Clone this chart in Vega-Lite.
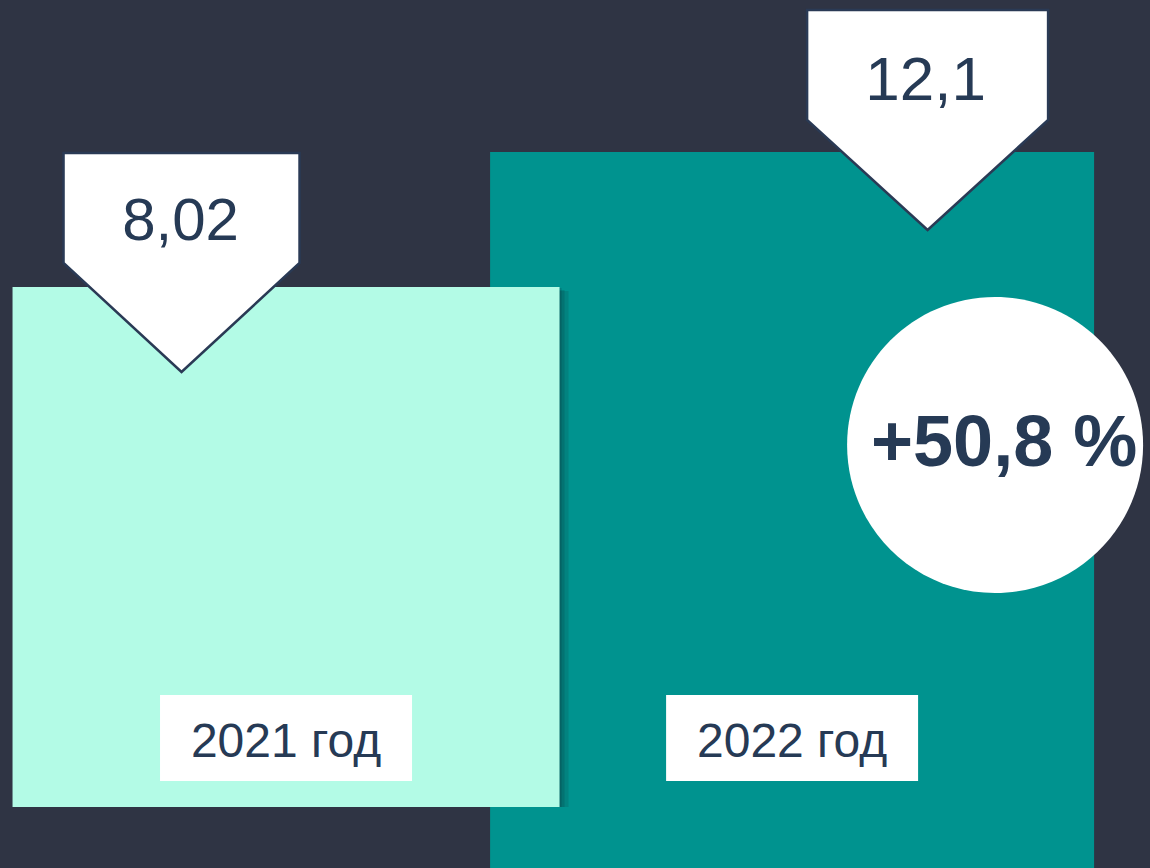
{
  "$schema": "https://vega.github.io/schema/vega-lite/v6.json",
  "width": 1150,
  "height": 868,
  "padding": 0,
  "autosize": {"type": "none"},
  "background": "#2f3444",
  "config": {
    "view": {"stroke": null},
    "font": "Liberation Sans",
    "locale": {"number": {"decimal": ",", "thousands": " ", "grouping": [3], "currency": ["", ""]}}
  },
  "data": {"values": [
    {"year": 2021, "value": 8.02, "label": "2021 год"},
    {"year": 2022, "value": 12.1, "label": "2022 год", "growth": "+50,8 %"}
  ]},
  "encoding": {
    "x": {"field": "year", "type": "quantitative", "axis": null,
      "scale": {"domain": [2020.44466, 2022.69736], "nice": false, "zero": false}},
    "y": {"field": "value", "type": "quantitative", "axis": null,
      "scale": {"domain": [-9.539, 16.694], "nice": false, "zero": false}}
  },
  "layer": [
    {
      "transform": [{"filter": "datum.year == 2022"}],
      "mark": {"type": "bar", "width": 604, "color": "#00938f"},
      "encoding": {"y2": {"datum": -9.539}}
    },
    {
      "transform": [{"filter": "datum.year == 2021"}],
      "mark": {"type": "bar", "width": 547, "color": "#10141c", "opacity": 0.12, "xOffset": 9, "yOffset": 4},
      "encoding": {"y2": {"datum": -7.6956}}
    },
    {
      "transform": [{"filter": "datum.year == 2021"}],
      "mark": {"type": "bar", "width": 547, "color": "#10141c", "opacity": 0.14, "xOffset": 5, "yOffset": 3},
      "encoding": {"y2": {"datum": -7.6956}}
    },
    {
      "transform": [{"filter": "datum.year == 2021"}],
      "mark": {"type": "bar", "width": 547, "color": "#10141c", "opacity": 0.16, "xOffset": 2, "yOffset": 1},
      "encoding": {"y2": {"datum": -7.6956}}
    },
    {
      "transform": [{"filter": "datum.year == 2021"}],
      "mark": {"type": "bar", "width": 547, "color": "#b3fbe6"},
      "encoding": {"y2": {"datum": -7.6956}}
    },
    {
      "mark": {"type": "point", "filled": true, "size": 4, "fill": "#ffffff", "stroke": "#2a3a55", "strokeWidth": 2.5, "opacity": 1},
      "encoding": {
        "shape": {"field": "year", "type": "nominal", "legend": null,
          "scale": {"domain": [2021, 2022], "range": [
            "M -222.5 -134 L 13.5 -134 L 13.5 -24 L -104.5 85 L -222.5 -24 Z",
            "M 15 -142 L 256 -142 L 256 -32 L 135.5 78 L 15 -32 Z"
          ]}}
      }
    },
    {
      "transform": [{"filter": "datum.year == 2021"}],
      "mark": {"type": "text", "fontSize": 60, "align": "center", "baseline": "alphabetic", "dx": -105.5, "dy": -47, "color": "#263a55"},
      "encoding": {"text": {"field": "value", "type": "quantitative", "format": ".3~r"}}
    },
    {
      "transform": [{"filter": "datum.year == 2022"}],
      "mark": {"type": "text", "fontSize": 62, "align": "center", "baseline": "alphabetic", "dx": 133.5, "dy": -52, "color": "#263a55"},
      "encoding": {"text": {"field": "value", "type": "quantitative", "format": ".3~r"}}
    },
    {
      "mark": {"type": "point", "filled": true, "size": 4, "fill": "#ffffff", "opacity": 1},
      "encoding": {
        "y": {"datum": 0},
        "shape": {"value": "M -126 142.6 H 126 V 228.6 H -126 Z"}
      }
    },
    {
      "mark": {"type": "text", "fontSize": 48, "align": "center", "baseline": "alphabetic", "dy": 204.6, "color": "#263a55"},
      "encoding": {
        "y": {"datum": 0},
        "text": {"field": "label", "type": "nominal"}
      }
    },
    {
      "transform": [{"filter": "datum.year == 2022"}],
      "mark": {"type": "point", "filled": true, "size": 4, "fill": "#ffffff", "opacity": 1},
      "encoding": {
        "shape": {"value": "M 55 293 A 148 148 0 1 0 351 293 A 148 148 0 1 0 55 293 Z"}
      }
    },
    {
      "transform": [{"filter": "datum.year == 2022"}],
      "mark": {"type": "text", "fontSize": 72, "fontWeight": "bold", "align": "center", "baseline": "alphabetic", "dx": 212, "dy": 314, "color": "#263a55"},
      "encoding": {"text": {"field": "growth", "type": "nominal"}}
    }
  ]
}
